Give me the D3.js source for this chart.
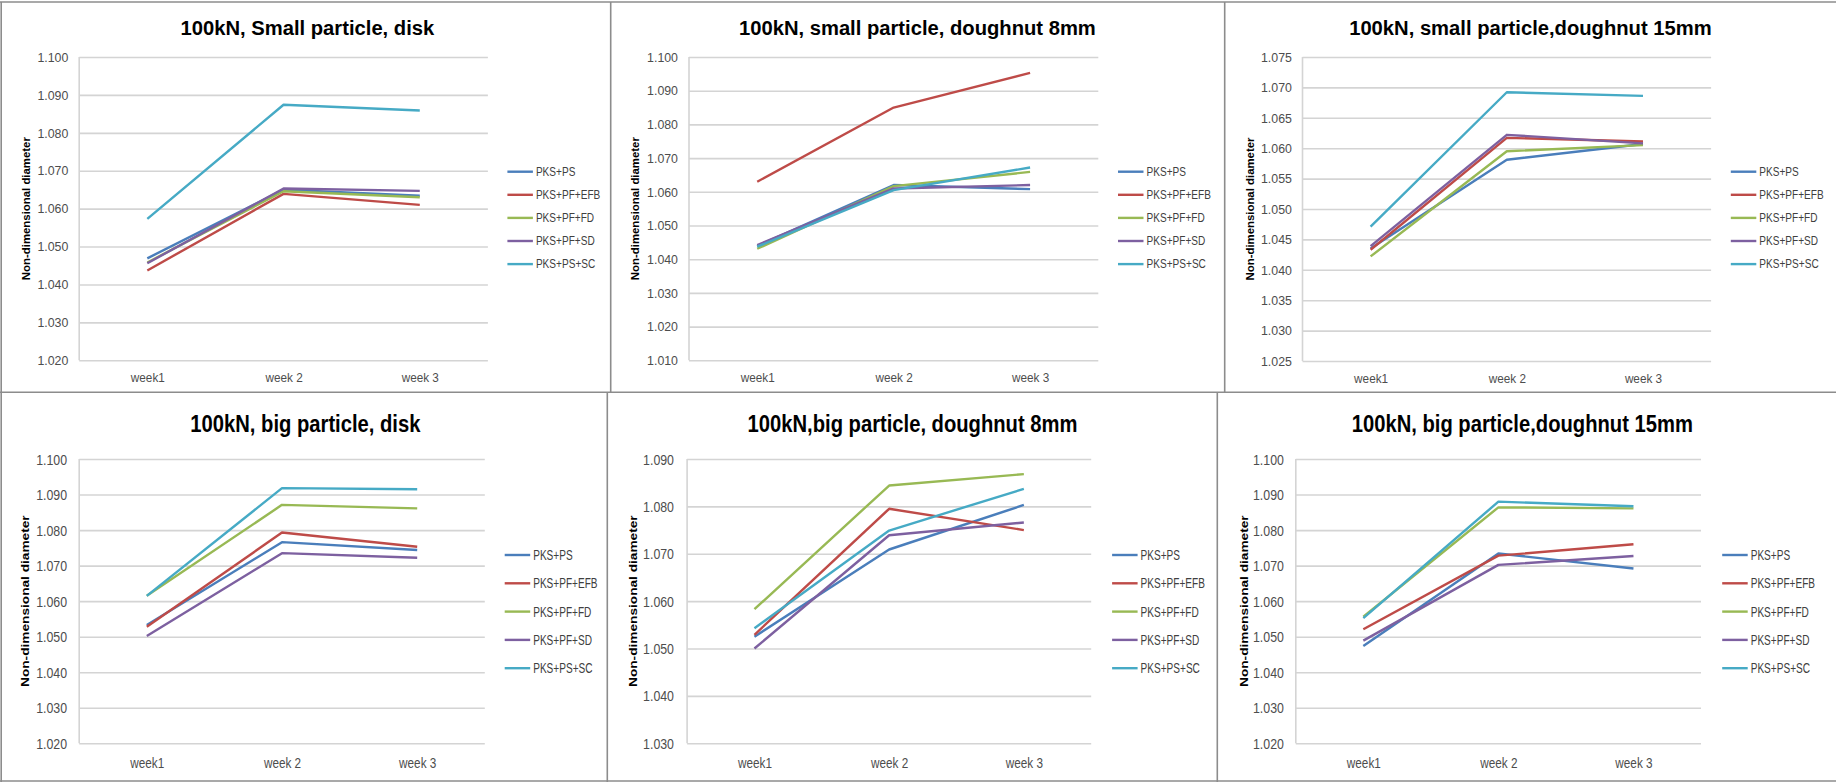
<!DOCTYPE html>
<html>
<head>
<meta charset="utf-8">
<script src="https://cdn.jsdelivr.net/npm/d3@7"></script>
<style>
  html, body { margin: 0; padding: 0; background: #fff; }
  svg { display: block; }
</style>
</head>
<body>
<svg id="chart" width="1836" height="782"></svg>
<script>
// ---- data ----
const categories = ["week1", "week 2", "week 3"];
const seriesNames = ["PKS+PS", "PKS+PF+EFB", "PKS+PF+FD", "PKS+PF+SD", "PKS+PS+SC"];
const seriesColors = ["#4a7ebb", "#be4b48", "#98b954", "#7d60a0", "#46aac5"];

const panelTitles = [
  "100kN, Small particle, disk",
  "100kN, small particle, doughnut 8mm",
  "100kN, small particle,doughnut 15mm",
  "100kN, big particle, disk",
  "100kN,big particle, doughnut 8mm",
  "100kN, big particle,doughnut 15mm"
];

// one row per series (same order as seriesNames), one column per week
const smallDisk = [
  [1.0469, 1.0650, 1.0634],
  [1.0437, 1.0639, 1.0610],
  [1.0458, 1.0646, 1.0630],
  [1.0456, 1.0653, 1.0647],
  [1.0573, 1.0874, 1.0859]
];
const smallDoughnut8 = [
  [1.0439, 1.0620, 1.0608],
  [1.0630, 1.0850, 1.0953],
  [1.0431, 1.0617, 1.0659],
  [1.0442, 1.0610, 1.0620],
  [1.0437, 1.0605, 1.0672]
];
const smallDoughnut15 = [
  [1.0435, 1.0581, 1.0607],
  [1.0433, 1.0617, 1.0611],
  [1.0422, 1.0595, 1.0605],
  [1.0439, 1.0622, 1.0608],
  [1.0471, 1.0692, 1.0686]
];
const bigDisk = [
  [1.0533, 1.0766, 1.0744],
  [1.0528, 1.0793, 1.0753],
  [1.0615, 1.0871, 1.0861],
  [1.0502, 1.0735, 1.0722],
  [1.0615, 1.0918, 1.0915]
];
const bigDoughnut8 = [
  [1.0525, 1.0709, 1.0803],
  [1.0529, 1.0795, 1.0750],
  [1.0583, 1.0844, 1.0868],
  [1.0500, 1.0739, 1.0766],
  [1.0543, 1.0749, 1.0837]
];
const bigDoughnut15 = [
  [1.0474, 1.0734, 1.0692],
  [1.0521, 1.0728, 1.0760],
  [1.0556, 1.0864, 1.0861],
  [1.0489, 1.0702, 1.0727],
  [1.0552, 1.0880, 1.0867]
];

// y-axis tick values
const ticks1020to1100 = [1.020, 1.030, 1.040, 1.050, 1.060, 1.070, 1.080, 1.090, 1.100];
const ticks1010to1100 = [1.010, 1.020, 1.030, 1.040, 1.050, 1.060, 1.070, 1.080, 1.090, 1.100];
const ticks1025to1075 = [1.025, 1.030, 1.035, 1.040, 1.045, 1.050, 1.055, 1.060, 1.065, 1.070, 1.075];
const ticks1030to1090 = [1.030, 1.040, 1.050, 1.060, 1.070, 1.080, 1.090];

const yAxisTitle = "Non-dimensional diameter";

// ---- layout ----
// bottom-row charts are drawn taller: their text is stretched vertically by vs
const rows = [
  { vs: 1.0, legendStep: 23.1, weekGap: 17.7 },
  { vs: 1.2, legendStep: 28.3, weekGap: 20.0 }
];

const panels = [
  { title: panelTitles[0], values: smallDisk, ticks: ticks1020to1100, row: 0,
    left: 79.2, right: 487.9, top: 57, bottom: 360.3, titleX: 307.4, titleY: 35,
    tickX: 68.3, yTitleX: 26.2, legX: 507.4, legY: 171.7 },
  { title: panelTitles[1], values: smallDoughnut8, ticks: ticks1010to1100, row: 0,
    left: 689, right: 1098.3, top: 57, bottom: 360.3, titleX: 917.4, titleY: 35,
    tickX: 678, yTitleX: 635.7, legX: 1118, legY: 171.7 },
  { title: panelTitles[2], values: smallDoughnut15, ticks: ticks1025to1075, row: 0,
    left: 1302.5, right: 1711.1, top: 57, bottom: 361, titleX: 1530.4, titleY: 35,
    tickX: 1291.9, yTitleX: 1250.3, legX: 1730.8, legY: 171.7 },
  { title: panelTitles[3], values: bigDisk, ticks: ticks1020to1100, row: 1,
    left: 79.2, right: 484.8, top: 459, bottom: 743.3, titleX: 305.4, titleY: 431.7,
    tickX: 67.1, yTitleX: 25.4, legX: 504.7, legY: 555 },
  { title: panelTitles[4], values: bigDoughnut8, ticks: ticks1030to1090, row: 1,
    left: 687.1, right: 1091.2, top: 459, bottom: 743.3, titleX: 912.5, titleY: 431.7,
    tickX: 674, yTitleX: 632.9, legX: 1112.1, legY: 555 },
  { title: panelTitles[5], values: bigDoughnut15, ticks: ticks1020to1100, row: 1,
    left: 1295.8, right: 1701, top: 459, bottom: 743.3, titleX: 1522.3, titleY: 431.7,
    tickX: 1283.9, yTitleX: 1243.9, legX: 1722.2, legY: 555 }
];

const FONT = "'Liberation Sans', Arial, sans-serif";
const svg = d3.select("#chart");

// Scale text horizontally by k around its anchor point (appended to any existing transform).
function squeeze(sel, k) {
  sel.attr("transform", function () {
    const prev = this.getAttribute("transform") || "";
    return `${prev} scale(${k},1)`.trim();
  });
}

// ---- panel frames ----
const frame = svg.append("g")
  .attr("stroke", "#8c8c8c")
  .attr("stroke-width", 1.6)
  .attr("fill", "none");
[
  [0, 2, 1836, 2],
  [1.2, 2, 1.2, 782],
  [0, 392.3, 1836, 392.3],
  [0, 781, 1836, 781],
  [610.7, 2, 610.7, 392.3],
  [1224.7, 2, 1224.7, 392.3],
  [607.3, 392.3, 607.3, 782],
  [1217.3, 392.3, 1217.3, 782]
].forEach(([x1, y1, x2, y2]) => {
  frame.append("line").attr("x1", x1).attr("y1", y1).attr("x2", x2).attr("y2", y2);
});

// ---- panels ----
panels.forEach(p => {
  const r = rows[p.row];
  const g = svg.append("g");

  const x = d3.scalePoint()
    .domain(categories)
    .range([p.left, p.right])
    .padding(0.5);

  const y = d3.scaleLinear()
    .domain([p.ticks[0], p.ticks[p.ticks.length - 1]])
    .range([p.bottom, p.top]);

  // horizontal gridlines
  g.append("g")
    .attr("transform", `translate(${p.left},0)`)
    .call(d3.axisLeft(y).tickValues(p.ticks).tickSize(-(p.right - p.left)).tickFormat(""))
    .call(a => a.select(".domain").remove())
    .call(a => a.selectAll(".tick line").attr("stroke", "#d4d4d4").attr("stroke-width", 1.6));

  // vertical axis line
  g.append("line")
    .attr("x1", p.left).attr("x2", p.left)
    .attr("y1", p.top).attr("y2", p.bottom)
    .attr("stroke", "#d4d4d4").attr("stroke-width", 1.6);

  // y tick labels
  const yAx = g.append("g")
    .attr("transform", `translate(${p.tickX},0)`)
    .call(d3.axisLeft(y).tickValues(p.ticks).tickSize(0).tickPadding(0).tickFormat(d3.format(".3f")));
  yAx.select(".domain").remove();
  yAx.selectAll("text")
    .attr("x", 0)
    .attr("font-family", FONT)
    .attr("font-size", 12 * r.vs)
    .attr("fill", "#4d4d4d")
    .attr("dy", "0.35em")
    .call(squeeze, 1.03 / r.vs);

  // x category labels
  const xAx = g.append("g")
    .attr("transform", `translate(0,${p.bottom + r.weekGap})`)
    .call(d3.axisBottom(x).tickSize(0).tickPadding(0));
  xAx.select(".domain").remove();
  xAx.selectAll("text")
    .attr("y", 0)
    .attr("font-family", FONT)
    .attr("font-size", 12 * r.vs)
    .attr("fill", "#4d4d4d")
    .attr("dy", "0.35em")
    .call(squeeze, 0.98 / r.vs);

  // y-axis title
  g.append("text")
    .attr("transform", `translate(${p.yTitleX},${(p.top + p.bottom) / 2}) rotate(-90)`)
    .attr("text-anchor", "middle")
    .attr("dy", "0.35em")
    .attr("font-family", FONT)
    .attr("font-size", 10.5)
    .attr("font-weight", "bold")
    .attr("fill", "#000")
    .attr("textLength", 143 * r.vs)
    .attr("lengthAdjust", "spacingAndGlyphs")
    .text(yAxisTitle);

  // chart title
  g.append("text")
    .attr("transform", `translate(${p.titleX},${p.titleY})`)
    .attr("text-anchor", "middle")
    .attr("font-family", FONT)
    .attr("font-size", 20 * r.vs)
    .attr("font-weight", "bold")
    .attr("fill", "#000")
    .text(p.title)
    .call(squeeze, 1.01 / r.vs);

  // series lines
  const line = d3.line()
    .x((d, i) => x(categories[i]))
    .y(d => y(d));

  g.append("g")
    .selectAll("path")
    .data(p.values)
    .join("path")
    .attr("d", line)
    .attr("fill", "none")
    .attr("stroke", (d, i) => seriesColors[i])
    .attr("stroke-width", 2.4)
    .attr("stroke-linejoin", "round")
    .attr("stroke-linecap", "butt");

  // legend
  const leg = g.append("g")
    .selectAll("g")
    .data(seriesNames)
    .join("g")
    .attr("transform", (d, i) => `translate(${p.legX},${p.legY + i * r.legendStep})`);
  leg.append("line")
    .attr("x1", 0).attr("x2", 25.5)
    .attr("stroke", (d, i) => seriesColors[i])
    .attr("stroke-width", 2.4);
  leg.append("text")
    .attr("transform", "translate(28.5,0)")
    .attr("dy", "0.35em")
    .attr("font-family", FONT)
    .attr("font-size", 12 * r.vs)
    .attr("fill", "#404040")
    .text(d => d)
    .call(squeeze, 0.84 / r.vs);
});
</script>
</body>
</html>
